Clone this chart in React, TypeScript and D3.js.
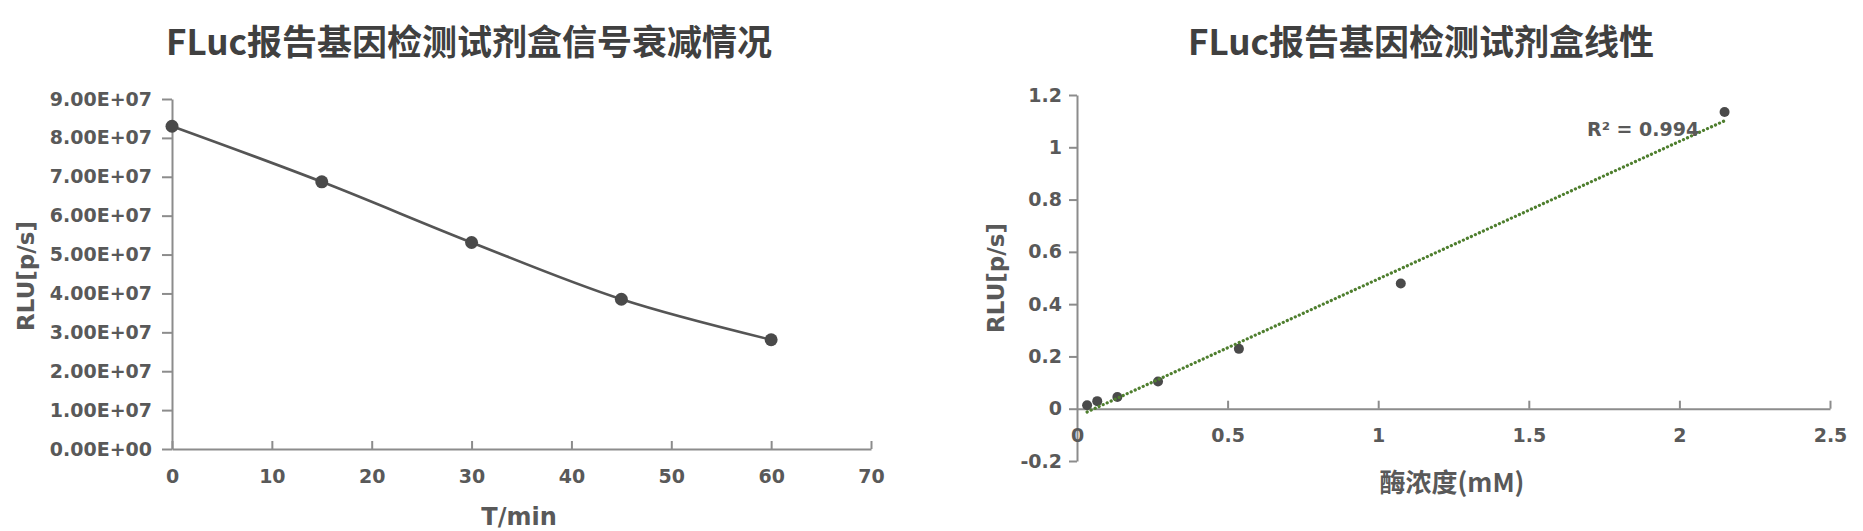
import React, { useEffect, useRef } from "react";
import * as d3 from "d3";

// ---- Data: signal decay ----
const decayTime = [0, 15, 30, 45, 60];
const decayRLU = [8.3e7, 6.87e7, 5.31e7, 3.85e7, 2.81e7];
const decayYTicks = [0, 1e7, 2e7, 3e7, 4e7, 5e7, 6e7, 7e7, 8e7, 9e7];
const decayXTicks = [0, 10, 20, 30, 40, 50, 60, 70];

// ---- Data: linearity ----
const enzymeConc = [0.0336, 0.0672, 0.134, 0.269, 0.5375, 1.075, 2.15];
const linearRLU = [0.013, 0.029, 0.045, 0.104, 0.229, 0.479, 1.135];
const linYTicks = [-0.2, 0, 0.2, 0.4, 0.6, 0.8, 1, 1.2];
const linXTicks = [0, 0.5, 1, 1.5, 2, 2.5];

const title1 = "FLuc报告基因检测试剂盒信号衰减情况";
const title2 = "FLuc报告基因检测试剂盒线性";
const r2Label = "R² = 0.994";

const TICK_FONT = "'DejaVu Sans', sans-serif";
const CJK_FONT = "'Noto Sans CJK SC', sans-serif";
const TEXT_COLOR = "#595959";
const AXIS_COLOR = "#8c8c8c";

function sci(v: number): string {
  if (v === 0) return "0.00E+00";
  const e = Math.floor(Math.log10(Math.abs(v)) + 1e-9);
  const m = v / Math.pow(10, e);
  const es = (e < 0 ? "-" : "+") + String(Math.abs(e)).padStart(2, "0");
  return m.toFixed(2) + "E" + es;
}
const plain = (v: number) => String(+v.toFixed(2));

export default function App() {
  const ref = useRef<SVGSVGElement | null>(null);

  useEffect(() => {
    const svg = d3.select(ref.current);
    svg.selectAll("*").remove();

    const styleAxis = (g: any) => {
      g.select(".domain").attr("stroke", AXIS_COLOR).attr("stroke-width", 2);
      g.selectAll(".tick line").attr("stroke", AXIS_COLOR).attr("stroke-width", 2);
      g.selectAll(".tick text")
        .attr("fill", TEXT_COLOR)
        .attr("font-family", TICK_FONT)
        .attr("font-weight", "bold")
        .attr("font-size", 19);
      g.attr("font-family", null).attr("font-size", null);
    };

    // ===== Left chart =====
    const x1 = d3.scaleLinear().domain([0, 70]).range([172, 871]);
    const y1 = d3.scaleLinear().domain([0, 9e7]).range([449, 99]);

    const gy1 = svg.append("g").attr("transform", `translate(${x1(0)},0)`);
    gy1.call(
      d3.axisLeft(y1).tickValues(decayYTicks).tickFormat((d: any) => sci(+d)).tickSizeInner(10).tickSizeOuter(0).tickPadding(10)
    );
    styleAxis(gy1);

    const gx1 = svg.append("g").attr("transform", `translate(0,${y1(0)})`);
    gx1.call(
      d3.axisBottom(x1).tickValues(decayXTicks).tickFormat((d: any) => plain(+d)).tickSizeInner(-8).tickSizeOuter(0).tickPadding(21)
    );
    styleAxis(gx1);

    const line1 = d3
      .line<number>()
      .x((_, i) => x1(decayTime[i]))
      .y((d) => y1(d))
      .curve(d3.curveCatmullRom.alpha(0.5));
    svg.append("path").datum(decayRLU).attr("d", line1 as any).attr("fill", "none").attr("stroke", "#555555").attr("stroke-width", 2.6);

    svg.append("g").selectAll("circle").data(decayRLU).join("circle")
      .attr("cx", (_, i) => x1(decayTime[i]))
      .attr("cy", (d) => y1(d))
      .attr("r", 6.5)
      .attr("fill", "#4a4a4a");

    svg.append("text").text(title1)
      .attr("x", 469).attr("y", 39).attr("text-anchor", "middle").attr("dominant-baseline", "central")
      .attr("font-family", CJK_FONT).attr("font-weight", 700).attr("font-size", 35).attr("fill", "#404040");

    svg.append("text").text("T/min")
      .attr("x", 519).attr("y", 517).attr("text-anchor", "middle").attr("dominant-baseline", "central")
      .attr("font-family", TICK_FONT).attr("font-weight", "bold").attr("font-size", 24).attr("fill", TEXT_COLOR);

    svg.append("text").text("RLU[p/s]")
      .attr("transform", "translate(26,276) rotate(-90)").attr("text-anchor", "middle").attr("dominant-baseline", "central")
      .attr("font-family", TICK_FONT).attr("font-weight", "bold").attr("font-size", 23).attr("fill", TEXT_COLOR);

    // ===== Right chart =====
    const x2 = d3.scaleLinear().domain([0, 2.5]).range([1077, 1830]);
    const y2 = d3.scaleLinear().domain([-0.2, 1.2]).range([461, 95]);

    const gy2 = svg.append("g").attr("transform", `translate(${x2(0)},0)`);
    gy2.call(
      d3.axisLeft(y2).tickValues(linYTicks).tickFormat((d: any) => plain(+d)).tickSizeInner(8).tickSizeOuter(0).tickPadding(7)
    );
    styleAxis(gy2);

    const gx2 = svg.append("g").attr("transform", `translate(0,${y2(0)})`);
    gx2.call(
      d3.axisBottom(x2).tickValues(linXTicks).tickFormat((d: any) => plain(+d)).tickSizeInner(-8).tickSizeOuter(0).tickPadding(20)
    );
    styleAxis(gx2);
    gx2.selectAll(".tick").filter((d: any) => d === 0).select("line").remove();

    // linear trendline (least squares)
    const n = enzymeConc.length;
    const mx = d3.mean(enzymeConc)!;
    const my = d3.mean(linearRLU)!;
    let sxy = 0, sxx = 0;
    for (let i = 0; i < n; i++) {
      sxy += (enzymeConc[i] - mx) * (linearRLU[i] - my);
      sxx += (enzymeConc[i] - mx) ** 2;
    }
    const slope = sxy / sxx;
    const icpt = my - slope * mx;
    const xmin = d3.min(enzymeConc)!;
    const xmax = d3.max(enzymeConc)!;

    svg.append("g").selectAll("circle").data(linearRLU).join("circle")
      .attr("cx", (_, i) => x2(enzymeConc[i]))
      .attr("cy", (d) => y2(d))
      .attr("r", 5)
      .attr("fill", "#4a4a4a");

    svg.append("line")
      .attr("x1", x2(xmin)).attr("y1", y2(slope * xmin + icpt))
      .attr("x2", x2(xmax)).attr("y2", y2(slope * xmax + icpt))
      .attr("stroke", "#4f7f2f").attr("stroke-width", 3.2)
      .attr("stroke-dasharray", "0.1 4.3").attr("stroke-linecap", "round");

    svg.append("text").text(r2Label)
      .attr("x", 1587).attr("y", 136)
      .attr("font-family", TICK_FONT).attr("font-weight", "bold").attr("font-size", 19).attr("fill", TEXT_COLOR);

    svg.append("text").text(title2)
      .attr("x", 1421).attr("y", 39).attr("text-anchor", "middle").attr("dominant-baseline", "central")
      .attr("font-family", CJK_FONT).attr("font-weight", 700).attr("font-size", 35).attr("fill", "#404040");

    svg.append("text").text("酶浓度(mM)")
      .attr("x", 1452).attr("y", 480).attr("text-anchor", "middle").attr("dominant-baseline", "central")
      .attr("font-family", CJK_FONT).attr("font-weight", 700).attr("font-size", 26).attr("fill", TEXT_COLOR);

    svg.append("text").text("RLU[p/s]")
      .attr("transform", "translate(996,278) rotate(-90)").attr("text-anchor", "middle").attr("dominant-baseline", "central")
      .attr("font-family", TICK_FONT).attr("font-weight", "bold").attr("font-size", 23).attr("fill", TEXT_COLOR);
  }, []);

  return (
    <svg
      ref={ref}
      width={1863}
      height={531}
      style={{ position: "absolute", left: 0, top: 0, background: "#ffffff" }}
    />
  );
}
